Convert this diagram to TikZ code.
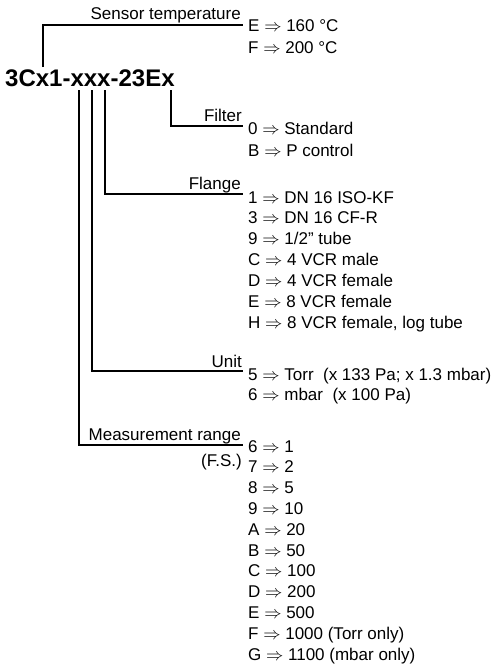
\documentclass[tikz,border=0pt]{standalone}
\usepackage{fontspec}
\setmainfont{Liberation Sans}
\newcommand{\RA}{$\Rightarrow$}
\begin{document}
\begin{tikzpicture}[x=1pt,y=-1pt,
  conn/.style={line width=1.2pt},
  item/.style={anchor=base west,inner sep=0pt,font=\fontsize{17}{21}\selectfont},
  lbl/.style={anchor=base east,inner sep=0pt,font=\fontsize{17}{21}\selectfont}]
\useasboundingbox (0,0) rectangle (504,665);
% code
\node[anchor=base west,inner sep=0pt,font=\fontsize{24}{28}\selectfont\bfseries] (code) at (5,86) {3Cx1-xxx-23Ex};
% anchor coordinates
\coordinate (cS) at (43,67);
\coordinate (cF) at (171,90);
\coordinate (cFl) at (105,90);
\coordinate (cU) at (92,90);
\coordinate (cM) at (79,90);
\coordinate (eS) at (243,25);
\coordinate (eF) at (243,126);
\coordinate (eFl) at (243,194);
\coordinate (eU) at (243,371);
\coordinate (eM) at (243,445);
\draw[conn] (cS) |- (eS);
\draw[conn] (cF) |- (eF);
\draw[conn] (cFl) |- (eFl);
\draw[conn] (cU) |- (eU);
\draw[conn] (cM) |- (eM);
% labels
\node[lbl] (lS) at (241,19) {Sensor temperature};
\node[lbl] (lF) at (242,121) {Filter};
\node[lbl] (lFl) at (241,189) {Flange};
\node[lbl] (lU) at (242,367) {Unit};
\node[lbl] (lM) at (241,440) {Measurement range};
\node[lbl] (lFS) at (242,466) {(F.S.)};
% items
\foreach [count=\i] \t in {{E \RA{} 160 °C},{F \RA{} 200 °C}}
  \node[item] (s\i) at (248,{31+(\i-1)*22}) {\t};
\foreach [count=\i] \t in {{0 \RA{} Standard},{B \RA{} P control}}
  \node[item] (f\i) at (248,{134+(\i-1)*22}) {\t};
\foreach [count=\i] \t in {{1 \RA{} DN 16 ISO-KF},{3 \RA{} DN 16 CF-R},{9 \RA{} 1/2\symbol{34} tube},{C \RA{} 4 VCR male},{D \RA{} 4 VCR female},{E \RA{} 8 VCR female},{H \RA{} 8 VCR female, log tube}}
  \node[item] (fl\i) at (248,{203+(\i-1)*20.9}) {\t};
\foreach [count=\i] \t in {{5 \RA{} Torr~ (x 133 Pa; x 1.3 mbar)},{6 \RA{} mbar~ (x 100 Pa)}}
  \node[item] (u\i) at (248,{380+(\i-1)*20.5}) {\t};
\foreach [count=\i] \t in {{6 \RA{} 1},{7 \RA{} 2},{8 \RA{} 5},{9 \RA{} 10},{A \RA{} 20},{B \RA{} 50},{C \RA{} 100},{D \RA{} 200},{E \RA{} 500},{F \RA{} 1000 (Torr only)},{G \RA{} 1100 (mbar only)}}
  \node[item] (m\i) at (248,{452+(\i-1)*20.8}) {\t};
\end{tikzpicture}
\end{document}
